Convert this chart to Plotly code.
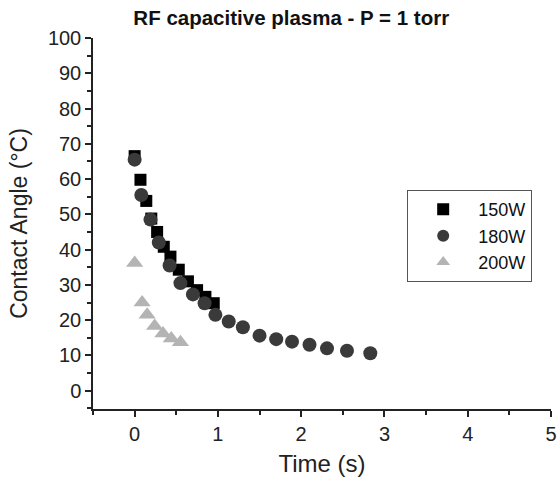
import plotly.graph_objects as go

x150 = [0.0, 0.07, 0.14, 0.20, 0.27, 0.35, 0.43, 0.53, 0.64, 0.75, 0.85, 0.95]
y150 = [66.5, 59.8, 53.8, 48.8, 45.0, 40.8, 38.0, 34.3, 31.0, 28.5, 26.6, 24.8]

x180 = [0.0, 0.08, 0.19, 0.29, 0.42, 0.55, 0.70, 0.84, 0.97, 1.13, 1.30, 1.50, 1.70, 1.89, 2.10, 2.31, 2.55, 2.83]
y180 = [65.5, 55.5, 48.5, 42.0, 35.5, 30.5, 27.3, 24.8, 21.5, 19.6, 18.0, 15.6, 14.6, 13.9, 13.0, 12.0, 11.3, 10.6]

x200 = [0.0, 0.09, 0.15, 0.24, 0.34, 0.44, 0.55]
y200 = [36.2, 25.0, 21.5, 18.3, 16.2, 14.8, 13.7]

fig = go.Figure()
fig.add_trace(go.Scatter(x=x150, y=y150, mode="markers", name="150W",
                         marker=dict(symbol="square", size=12, color="#000000")))
fig.add_trace(go.Scatter(x=x180, y=y180, mode="markers", name="180W",
                         marker=dict(symbol="circle", size=14, color="#3a3a3a")))
fig.add_trace(go.Scatter(x=x200, y=y200, mode="markers", name="200W",
                         marker=dict(symbol="triangle-up", size=15, color="#b4b4b4")))

font = "Liberation Sans, Arial, sans-serif"
fig.update_layout(
    width=558, height=477,
    margin=dict(l=93, r=7, t=38, b=68, autoexpand=False),
    paper_bgcolor="white", plot_bgcolor="white",
    font=dict(family=font, color="#222222", size=16),
    title=dict(text="<b>RF capacitive plasma - P = 1 torr</b>", x=0.522, xanchor="center",
               y=0.963, yanchor="middle", font=dict(size=20.5, color="#111111")),
    showlegend=True,
    legend=dict(x=0.686, y=0.59, xanchor="left", yanchor="top",
                bordercolor="#555555", borderwidth=1, bgcolor="white",
                font=dict(size=18, color="#111111"), itemsizing="constant",
                itemwidth=60, tracegroupgap=0),
    xaxis=dict(range=[-0.5, 5], tickmode="array", tickvals=[0, 1, 2, 3, 4, 5],
               automargin=False, ticklabeloverflow="allow",
               showgrid=False, zeroline=False, showline=True, linecolor="#222222", linewidth=1.5,
               ticks="outside", ticklen=6, tickwidth=1.5, tickcolor="#222222",
               minor=dict(ticks="outside", ticklen=4, tickwidth=1.5, tickcolor="#222222", dtick=0.5, tick0=-0.5),
               tickfont=dict(size=20), title=dict(text="Time (s)", font=dict(size=24), standoff=12)),
    yaxis=dict(range=[-5.2, 100], tickmode="array", tickvals=list(range(0, 101, 10)),
               automargin=False, ticklabeloverflow="allow",
               showgrid=False, zeroline=False, showline=True, linecolor="#222222", linewidth=1.5,
               ticks="outside", ticklen=6, tickwidth=1.5, tickcolor="#222222",
               minor=dict(ticks="outside", ticklen=4, tickwidth=1.5, tickcolor="#222222", dtick=5, tick0=0),
               tickfont=dict(size=20), title=dict(text="Contact Angle (°C)", font=dict(size=23), standoff=14)),
)

fig.write_html("out.html", config={"displayModeBar": False},
               post_script="document.body.style.margin='0';document.body.style.padding='0';")
